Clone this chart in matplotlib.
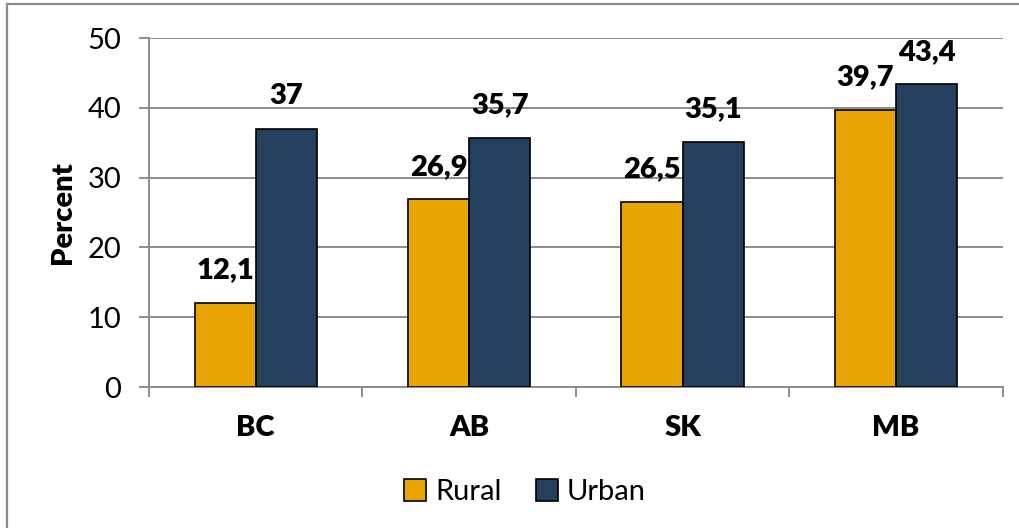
import numpy as np
import matplotlib.pyplot as plt
from matplotlib.lines import Line2D

# Porcentajes por provincia
provinces = ['BC', 'AB', 'SK', 'MB']
rural = [12.1, 26.9, 26.5, 39.7]
urban = [37.0, 35.7, 35.1, 43.4]
rural_labels = ['12,1', '26,9', '26,5', '39,7']
urban_labels = ['37', '35,7', '35,1', '43,4']

plt.rcParams['font.family'] = ['Lato', 'DejaVu Sans']

def plot_chart():
    fig = plt.figure(figsize=(10.2, 5.28), dpi=100)
    ax = fig.add_axes([0.146, 0.267, 0.837, 0.661])

    x = np.arange(len(provinces))
    w = 0.286
    grid_col = '#8c8c8c'

    ax.bar(x - w / 2, rural, w, color='#E8A400', edgecolor='black', linewidth=1.2, label='Rural', zorder=3)
    ax.bar(x + w / 2, urban, w, color='#253F5F', edgecolor='black', linewidth=1.2, label='Urban', zorder=3)

    # Etiquetas de valores sobre las barras
    for i in range(len(provinces)):
        ax.annotate(rural_labels[i], (x[i] - w / 2, rural[i]), xytext=(0, 14), textcoords='offset points',
                    ha='center', va='bottom', fontsize=21, fontweight='heavy')
        ax.annotate(urban_labels[i], (x[i] + w / 2, urban[i]), xytext=(0, 14), textcoords='offset points',
                    ha='center', va='bottom', fontsize=21, fontweight='heavy')

    ax.set_xlim(-0.5, 3.5)
    ax.set_ylim(0, 50)
    ax.set_yticks([0, 10, 20, 30, 40, 50])
    ax.yaxis.grid(True, color=grid_col, linewidth=1.4, zorder=0)

    ax.set_xticks(x)
    ax.set_xticklabels(provinces, fontsize=21, fontweight='heavy')
    ax.set_xticks(np.arange(-0.5, 4.0, 1.0), minor=True)
    ax.tick_params(axis='x', which='major', length=0, pad=20)
    ax.tick_params(axis='x', which='minor', length=7, width=1.4, color=grid_col, direction='out')
    ax.tick_params(axis='y', length=7, width=1.4, color=grid_col, pad=13, labelsize=21)

    for s in ['top', 'right']:
        ax.spines[s].set_visible(False)
    for s in ['left', 'bottom']:
        ax.spines[s].set_color(grid_col)
        ax.spines[s].set_linewidth(1.4)

    ax.set_ylabel('Percent', fontsize=21, fontweight='heavy', labelpad=8)

    fig.legend(loc='center', bbox_to_anchor=(0.515, 0.068), ncol=2, frameon=False, fontsize=21,
               handlelength=0.75, handleheight=0.75, handletextpad=0.3, columnspacing=1.2)

    # Marco exterior
    fig.add_artist(Line2D([0.0065, 0.0065], [0, 0.993], color=grid_col, linewidth=1.6))
    fig.add_artist(Line2D([0.0065, 1], [0.993, 0.993], color=grid_col, linewidth=1.6))

    fig.savefig('out.png', dpi=100)

plot_chart()
